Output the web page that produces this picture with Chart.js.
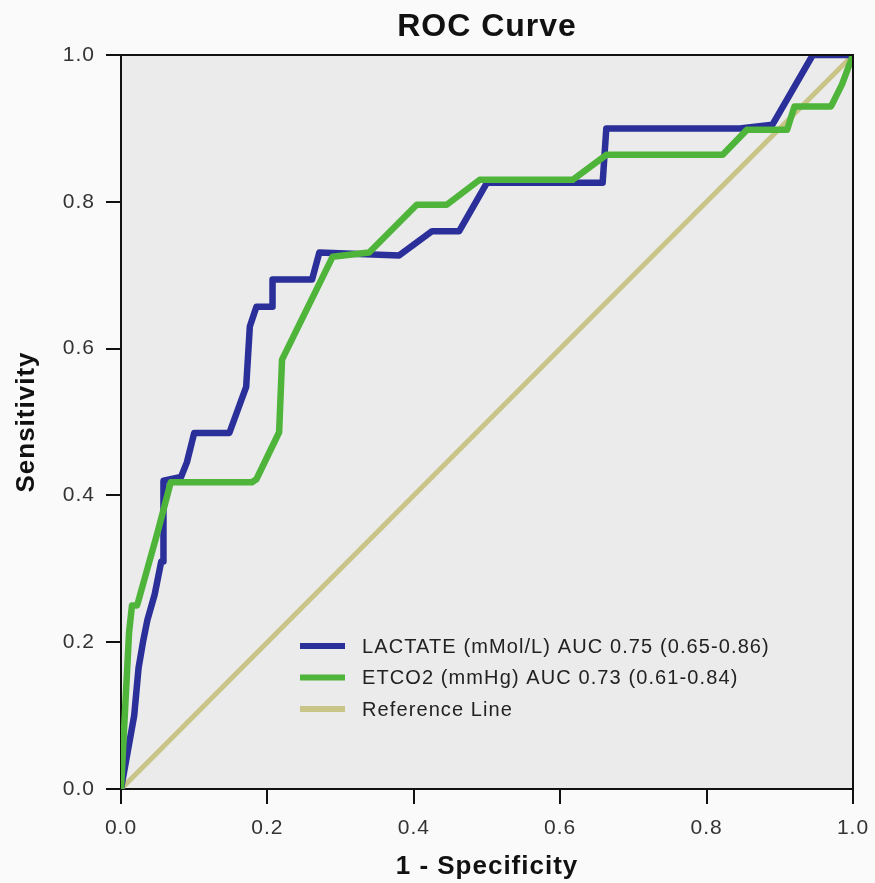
<!DOCTYPE html>
<html>
<head>
<meta charset="utf-8">
<script src="https://cdn.jsdelivr.net/npm/chart.js@4.4.1/dist/chart.umd.min.js"></script>
<style>
  html, body { margin: 0; padding: 0; background: #fafafa; }
  #wrap { width: 875px; height: 883px; }
</style>
</head>
<body>
<div id="wrap"><canvas id="roc"></canvas></div>
<script>
// ROC points
const lactateFpr = [0, 0.018, 0.024, 0.03, 0.036, 0.046, 0.055, 0.058, 0.058, 0.082, 0.09, 0.1, 0.148, 0.171, 0.176, 0.185, 0.207, 0.207, 0.261, 0.271, 0.38, 0.425, 0.462, 0.5, 0.658, 0.663, 0.845, 0.89, 0.945, 1];
const lactateTpr = [0, 0.10, 0.165, 0.2, 0.23, 0.265, 0.31, 0.31, 0.42, 0.425, 0.445, 0.485, 0.485, 0.548, 0.63, 0.657, 0.657, 0.694, 0.694, 0.731, 0.727, 0.76, 0.76, 0.826, 0.826, 0.9, 0.9, 0.905, 1, 1];

const etco2Fpr = [0, 0.011, 0.015, 0.022, 0.05, 0.068, 0.179, 0.185, 0.216, 0.22, 0.289, 0.339, 0.404, 0.445, 0.49, 0.617, 0.663, 0.822, 0.855, 0.91, 0.92, 0.97, 0.985, 1];
const etco2Tpr = [0, 0.213, 0.25, 0.25, 0.35, 0.418, 0.418, 0.422, 0.486, 0.585, 0.725, 0.731, 0.796, 0.796, 0.83, 0.83, 0.864, 0.864, 0.898, 0.898, 0.93, 0.93, 0.96, 1];

const refFpr = [0, 1];
const refTpr = [0, 1];

const seriesLabels = [
  'LACTATE (mMol/L) AUC 0.75 (0.65-0.86)',
  'ETCO2 (mmHg) AUC 0.73 (0.61-0.84)',
  'Reference Line'
];
const tickValues = [0, 0.2, 0.4, 0.6, 0.8, 1.0];
const chartTitle = 'ROC Curve';

const toPoints = (xs, ys) => xs.map((x, i) => ({x: x, y: ys[i]}));

const FONT = '"Liberation Sans", Arial, sans-serif';

// background, frame and the title (centred over the plot, not the canvas)
const frame = {
  id: 'frame',
  beforeDraw(chart) {
    const {ctx, chartArea: a} = chart;
    ctx.save();
    ctx.fillStyle = '#fafafa';
    ctx.fillRect(0, 0, chart.width, chart.height);
    ctx.fillStyle = '#ebebeb';
    ctx.fillRect(a.left, a.top, a.right - a.left, a.bottom - a.top);
    ctx.restore();
    // the original text is set a bit loose
    ctx.letterSpacing = '1px';
  },
  afterDraw(chart) {
    const {ctx, chartArea: a} = chart;
    ctx.save();
    ctx.strokeStyle = '#111';
    ctx.lineWidth = 2;
    ctx.beginPath();
    ctx.moveTo(a.left, a.top);
    ctx.lineTo(a.right, a.top);
    ctx.lineTo(a.right, a.bottom);
    ctx.stroke();

    ctx.fillStyle = '#111';
    ctx.font = 'bold 32px ' + FONT;
    ctx.textAlign = 'center';
    ctx.textBaseline = 'middle';
    ctx.fillText(chartTitle, (a.left + a.right) / 2, 27);
    ctx.restore();
  }
};

// legend drawn inside the plot, lower right
const innerLegend = {
  id: 'innerLegend',
  afterDatasetsDraw(chart, args, opts) {
    const ctx = chart.ctx;
    ctx.save();
    ctx.font = opts.font;
    ctx.letterSpacing = '1.1px';
    ctx.textBaseline = 'middle';
    chart.data.datasets.forEach((ds, i) => {
      const y = opts.y + i * opts.rowGap;
      ctx.strokeStyle = ds.borderColor;
      ctx.lineWidth = 6;
      ctx.beginPath();
      ctx.moveTo(opts.x, y);
      ctx.lineTo(opts.x + opts.swatch, y);
      ctx.stroke();
      ctx.fillStyle = '#222';
      ctx.fillText(ds.label, opts.x + opts.swatch + 17, y + 1);
    });
    ctx.restore();
  }
};

new Chart(document.getElementById('roc'), {
  type: 'line',
  data: {
    datasets: [
      {label: seriesLabels[0], data: toPoints(lactateFpr, lactateTpr), borderColor: '#2a2f9a', borderWidth: 6.5, order: 2},
      {label: seriesLabels[1], data: toPoints(etco2Fpr, etco2Tpr), borderColor: '#4fb43a', borderWidth: 6.5, order: 1},
      {label: seriesLabels[2], data: toPoints(refFpr, refTpr), borderColor: '#c9c487', borderWidth: 5, order: 3}
    ]
  },
  options: {
    responsive: true,
    maintainAspectRatio: false,
    animation: false,
    layout: {padding: {left: 0, right: 22, top: 55, bottom: 0}},
    elements: {
      point: {radius: 0},
      line: {tension: 0, borderJoinStyle: 'round', borderCapStyle: 'butt'}
    },
    plugins: {
      legend: {display: false},
      tooltip: {enabled: false},
      title: {display: false},
      innerLegend: {x: 300, y: 646, rowGap: 31.5, swatch: 45, font: '20px ' + FONT}
    },
    scales: {
      x: {
        type: 'linear',
        min: 0, max: 1,
        afterBuildTicks: s => { s.ticks = tickValues.map(v => ({value: v})); },
        afterFit: s => { s.height = 94; s.paddingLeft = 0; s.paddingRight = 0; },
        ticks: {
          color: '#333',
          font: {family: FONT, size: 21},
          padding: 12,
          maxRotation: 0,
          callback: v => v.toFixed(1)
        },
        grid: {drawOnChartArea: false, drawTicks: true, tickLength: 15, color: '#111', lineWidth: 2},
        border: {display: true, color: '#111', width: 2},
        title: {
          display: true,
          text: '1 - Specificity',
          color: '#111',
          font: {family: FONT, size: 26, weight: 'bold'},
          padding: {top: 2, bottom: 1}
        }
      },
      y: {
        type: 'linear',
        min: 0, max: 1,
        afterBuildTicks: s => { s.ticks = tickValues.map(v => ({value: v})); },
        afterFit: s => { s.width = 121; s.paddingTop = 0; s.paddingBottom = 0; },
        ticks: {
          color: '#333',
          font: {family: FONT, size: 21},
          padding: 11,
          callback: v => v.toFixed(1)
        },
        grid: {drawOnChartArea: false, drawTicks: true, tickLength: 15, color: '#111', lineWidth: 2},
        border: {display: true, color: '#111', width: 2},
        title: {
          display: true,
          text: 'Sensitivity',
          color: '#111',
          font: {family: FONT, size: 26, weight: 'bold'},
          padding: {top: 11, bottom: 2}
        }
      }
    }
  },
  plugins: [frame, innerLegend]
});
</script>
</body>
</html>
